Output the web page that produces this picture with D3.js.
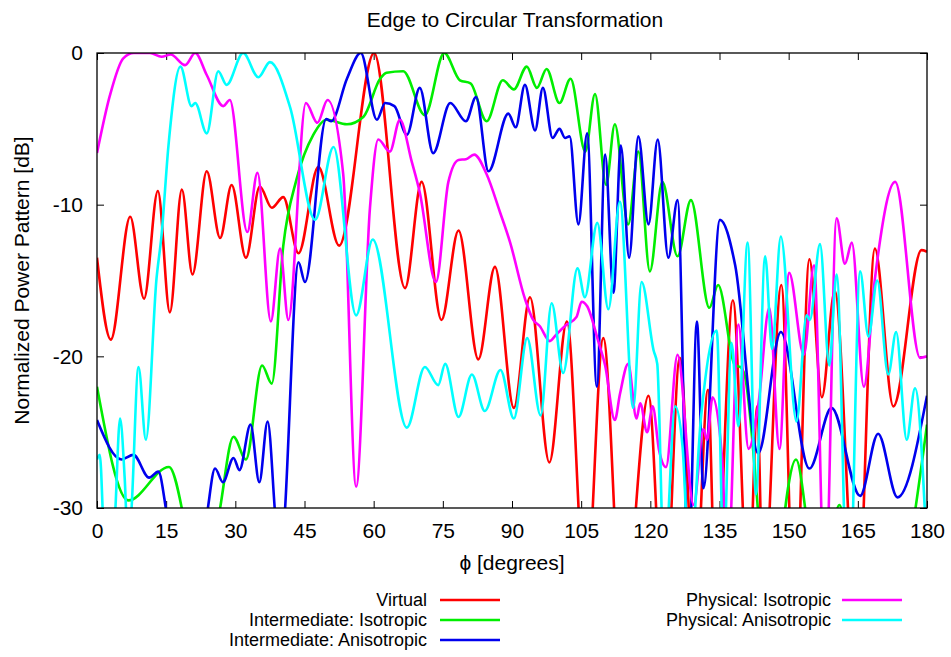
<!DOCTYPE html>
<html>
<head>
<meta charset="utf-8">
<script src="https://cdn.jsdelivr.net/npm/d3@7"></script>
<style>
  body { margin: 0; background: #fff; }
  svg text { font-family: "Liberation Sans", Arial, Helvetica, sans-serif; fill: #000; }
</style>
</head>
<body>
<svg id="chart" width="951" height="657"></svg>
<script>
// [phi (deg), normalized power (dB)], peaks and nulls only
const virtualPts = [
  [0,-13.5],[3,-18.9],[7.2,-10.8],[10.2,-16.2],[13.2,-9.1],[15.8,-17.1],[18.4,-9.0],[20.7,-14.6],
  [23.8,-7.8],[26.7,-12.2],[29.2,-8.7],[32.3,-13.5],[35.3,-8.8],[37.9,-10.2],[40.4,-9.5],[43.7,-13.2],
  [48.0,-7.5],[52.5,-12.7],[60.1,0],[66.8,-15.5],[70.4,-8.5],[74.7,-17.6],[78.4,-11.7],[82.7,-20.2],
  [86.3,-14.1],[90.4,-23.4],[93.9,-16.1],[98.1,-27.0],[101.9,-17.7],[106,-36],[109.8,-18.8],[114,-38],
  [119.6,-22.6],[123,-38],[126.4,-20.1],[129.7,-36],[132.5,-22.2],[134.2,-36],[137.9,-16.3],[141.3,-36],
  [143.2,-23.3],[144.5,-36],[148.4,-15.3],[151.3,-38],[154.5,-13.6],[157.2,-22.7],[160,-15.7],[164.8,-38],
  [168.7,-12.9],[172.7,-23.3],[178.8,-13.0],[180,-13.1]
];

const interIsoPts = [
  [0,-22.0],[6.8,-29.5],[15.6,-27.3],[20.5,-33],[23.5,-36],[26.7,-30],[29.6,-25.3],[32.3,-26.8],
  [35.8,-20.6],[37.9,-21.8],[40.4,-12.7],[43.3,-8.3],[46.9,-5.4],[49.8,-4.4],[54.2,-4.7],[57.8,-4.2],
  [61.4,-1.7],[62.8,-1.3],[66.4,-1.2],[71.1,-4.1],[75.3,0],[78.7,-1.8],[81,-2.0],[84.5,-4.5],
  [88,-1.8],[90.4,-2.4],[93.2,-0.9],[95.4,-2.3],[97.5,-1.05],[100.3,-3.3],[102.7,-1.7],[105.9,-6.5],
  [108,-2.7],[110.4,-8.7],[112.3,-4.7],[115.2,-11.3],[117.4,-6.5],[119.9,-14.4],[122.6,-8.5],[125.9,-13.4],
  [128.8,-9.7],[132.8,-16.8],[134.7,-15.3],[138.4,-20.6],[139.5,-20.7],[140.5,-21.3],[144.1,-33],[146,-40],
  [148.1,-33],[151.6,-26.8],[154.5,-32],[157,-36],[161,-29.8],[163,-33],[170,-40],[176.5,-32],[180,-24.5]
];

const interAnisoPts = [
  [0,-24.2],[5.3,-26.8],[7.9,-26.5],[11.3,-28.0],[13.3,-27.6],[15.2,-30.5],[19.5,-38],[23.8,-30.5],
  [25.6,-27.4],[27.3,-28.3],[29.6,-26.7],[30.9,-27.5],[33.3,-24.5],[35.2,-28.3],[37.0,-24.3],[38.8,-31],
  [40,-34],[40.8,-30],[43.7,-13.8],[45.1,-15.1],[49.7,-4.35],[50.8,-4.5],[54.2,-1.7],[57.2,0],
  [60.7,-4.4],[62.5,-3.3],[64.5,-3.5],[67.2,-5.4],[70,-2.3],[72.9,-6.6],[76.6,-3.3],[80,-4.5],
  [82.2,-2.9],[84.9,-7.8],[89.2,-4.0],[90.8,-4.9],[92.8,-2.1],[95,-5.1],[96.7,-2.3],[98.8,-5.6],
  [100.3,-5.0],[101.5,-5.6],[102.5,-5.5],[104.4,-11.3],[106.3,-5.3],[108.4,-22.0],[110.2,-6.7],[112,-15.8],
  [113.6,-6.1],[115.4,-13.5],[117.4,-5.5],[119.6,-11.3],[121.6,-5.7],[123.9,-13.5],[125.9,-9.7],[128.3,-34],
  [130.1,-17.7],[131.5,-28.7],[135.1,-11.0],[138.4,-14.0],[143.4,-26.4],[148.3,-18.4],[154.5,-27.4],[159.3,-23.4],
  [165.5,-29.2],[169.4,-25.1],[173.6,-29.3],[180,-22.6]
];

const physIsoPts = [
  [0,-6.6],[2.8,-2.8],[5.7,-0.35],[8,0],[11.5,0],[14,-0.25],[16,-0.1],[19.1,-0.8],
  [21.3,0],[23.8,-1.45],[27.4,-3.5],[28.8,-3.1],[32.6,-11.8],[34.8,-7.9],[37.7,-17.7],[39.7,-12.9],
  [41.5,-17.6],[45.3,-3.3],[47.8,-4.6],[50,-3.1],[53.4,-8.0],[56.2,-28.6],[59.2,-10.2],[61,-5.7],
  [63.5,-6.5],[65.7,-4.4],[68.2,-7.1],[70,-9.2],[73.5,-15.1],[76.2,-8.5],[78.4,-7.05],[80,-7.0],
  [81.8,-6.7],[84.5,-8.0],[87.4,-10.5],[89.6,-12.5],[92.8,-16.2],[94.6,-17.6],[96,-18.0],[98.2,-19.0],
  [99.5,-18.6],[101.5,-18.0],[104,-17.4],[105.1,-16.4],[106.3,-16.7],[108.7,-19.0],[110.2,-20.6],[112.3,-24.2],
  [113.4,-22.5],[115.2,-20.5],[117,-24.1],[117.8,-23.1],[119.3,-25.0],[120.5,-23.3],[121.9,-26.2],[123.4,-27.3],
  [125.9,-19.9],[129.4,-29.8],[131.5,-24.8],[132.3,-25.5],[133.5,-22.7],[135.5,-26.5],[136.8,-34],[139.1,-17.9],
  [141.3,-26.1],[143.5,-23.0],[145.8,-16.8],[148,-26.1],[150.1,-14.5],[153.3,-19.9],[155.5,-14.0],[157.9,-36],
  [160.4,-10.9],[162.2,-13.9],[163.7,-12.5],[166.3,-22.0],[168.7,-14.9],[173.1,-8.5],[178.5,-20.1],[180,-20.0]
];

const physAnisoPts = [
  [0,-26.8],[0.6,-26.5],[1.5,-32],[3,-36],[4,-30],[5,-24.1],[6,-28],[6.8,-33],
  [7.5,-30],[9.0,-20.7],[10.6,-25.5],[12.9,-14.9],[14,-12],[15.5,-6.1],[18.1,-0.9],[20.5,-3.5],
  [21.3,-3.3],[23.8,-5.3],[26.3,-1.2],[28.1,-2.1],[31.7,0],[35,-1.6],[37.5,-0.6],[41.9,-3.6],
  [47.3,-11.0],[51.3,-6.2],[56.2,-17.3],[59.8,-12.3],[67.2,-24.7],[71.1,-20.7],[74,-21.9],[75.5,-20.5],
  [78.4,-24.0],[81.3,-21.2],[84.1,-23.6],[87.5,-20.9],[90.4,-24.1],[93.3,-18.8],[96.2,-23.9],[98.6,-16.5],
  [101.1,-21.1],[104.2,-14.2],[105.8,-16.1],[108.5,-11.2],[110.9,-16.9],[113.4,-9.8],[116.3,-23.4],[118.1,-15.1],
  [120.7,-19.6],[121.5,-20.5],[123,-34],[125.4,-23.3],[127,-26],[128.5,-34],[131,-24],[134.4,-18.3],
  [135.9,-33],[137.6,-19.1],[139.1,-24.6],[141.1,-12.5],[142.9,-29.1],[144.9,-13.4],[146.4,-19.5],[148.3,-12.1],
  [151.7,-24.3],[153.9,-17.3],[154.6,-17.6],[156.8,-12.6],[158.8,-20.6],[160.4,-14.6],[163,-38],[165.5,-14.4],
  [167.3,-18.7],[169.2,-15.0],[171.6,-21.2],[173.3,-18.4],[175.6,-25.5],[177.4,-22.1],[180,-33]
];

const xTicks = [0, 15, 30, 45, 60, 75, 90, 105, 120, 135, 150, 165, 180];
const yTicks = [0, -10, -20, -30];

const seriesNames = ["Virtual", "Intermediate: Isotropic", "Intermediate: Anisotropic",
                     "Physical: Isotropic", "Physical: Anisotropic"];
const seriesColors = ["#ff0000", "#00ee00", "#0000ee", "#ff00ff", "#00ffff"];
const seriesData = [virtualPts, interIsoPts, interAnisoPts, physIsoPts, physAnisoPts];

const svg = d3.select("#chart");
const plotL = 97, plotR = 927, plotT = 53, plotB = 508;
const fontSize = "21px";

const x = d3.scaleLinear().domain([0, 180]).range([plotL, plotR]);
const y = d3.scaleLinear().domain([-30, 0]).range([plotB, plotT]);

svg.append("defs").append("clipPath").attr("id", "plotClip")
  .append("rect")
  .attr("x", plotL).attr("y", plotT)
  .attr("width", plotR - plotL).attr("height", plotB - plotT);

// axes, gnuplot style: inward ticks mirrored on all four sides
const tickLen = 7;
svg.append("g")
  .attr("transform", `translate(0,${plotB})`)
  .call(d3.axisBottom(x).tickValues(xTicks).tickSize(-tickLen).tickPadding(15).tickFormat(d => String(d)))
  .call(g => g.select(".domain").remove())
  .call(g => g.selectAll("text").style("font-size", fontSize));
svg.append("g")
  .attr("transform", `translate(0,${plotT})`)
  .call(d3.axisTop(x).tickValues(xTicks).tickSize(-tickLen).tickFormat(""))
  .call(g => g.select(".domain").remove());
svg.append("g")
  .attr("transform", `translate(${plotL},0)`)
  .call(d3.axisLeft(y).tickValues(yTicks).tickSize(-tickLen).tickPadding(14).tickFormat(d => String(d)))
  .call(g => g.select(".domain").remove())
  .call(g => g.selectAll("text").style("font-size", fontSize));
svg.append("g")
  .attr("transform", `translate(${plotR},0)`)
  .call(d3.axisRight(y).tickValues(yTicks).tickSize(-tickLen).tickFormat(""))
  .call(g => g.select(".domain").remove());

// curves
const line = d3.line()
  .x(d => x(d[0]))
  .y(d => y(d[1]))
  .curve(d3.curveMonotoneX);

svg.append("g").attr("clip-path", "url(#plotClip)")
  .selectAll("path")
  .data(seriesData)
  .enter().append("path")
  .attr("d", line)
  .attr("fill", "none")
  .attr("stroke", (d, i) => seriesColors[i])
  .attr("stroke-width", 2.6)
  .attr("stroke-linejoin", "round");

// border
svg.append("rect")
  .attr("x", plotL).attr("y", plotT)
  .attr("width", plotR - plotL).attr("height", plotB - plotT)
  .attr("fill", "none").attr("stroke", "#000").attr("stroke-width", 1.3);

// titles
svg.append("text")
  .attr("x", (plotL + plotR) / 2 + 3).attr("y", 27)
  .attr("text-anchor", "middle").style("font-size", fontSize)
  .text("Edge to Circular Transformation");
svg.append("text")
  .attr("x", (plotL + plotR) / 2).attr("y", 570)
  .attr("text-anchor", "middle").style("font-size", fontSize)
  .text("ϕ [degrees]");
svg.append("text")
  .attr("transform", `translate(29,${(plotT + plotB) / 2}) rotate(-90)`)
  .attr("text-anchor", "middle").style("font-size", fontSize)
  .text("Normalized Power Pattern [dB]");

// legend: three rows on the left, two on the right
const legendPos = [
  {tx: 427, lx: 440, row: 0}, {tx: 427, lx: 440, row: 1}, {tx: 427, lx: 440, row: 2},
  {tx: 831, lx: 842, row: 0}, {tx: 831, lx: 842, row: 1}
];
const legend = svg.append("g");
seriesNames.forEach((name, i) => {
  const p = legendPos[i];
  const cy = 600 + p.row * 20;
  legend.append("text")
    .attr("x", p.tx).attr("y", cy + 6)
    .attr("text-anchor", "end").style("font-size", "18px")
    .text(name);
  legend.append("line")
    .attr("x1", p.lx).attr("x2", p.lx + 60)
    .attr("y1", cy).attr("y2", cy)
    .attr("stroke", seriesColors[i]).attr("stroke-width", 2.6);
});
</script>
</body>
</html>
